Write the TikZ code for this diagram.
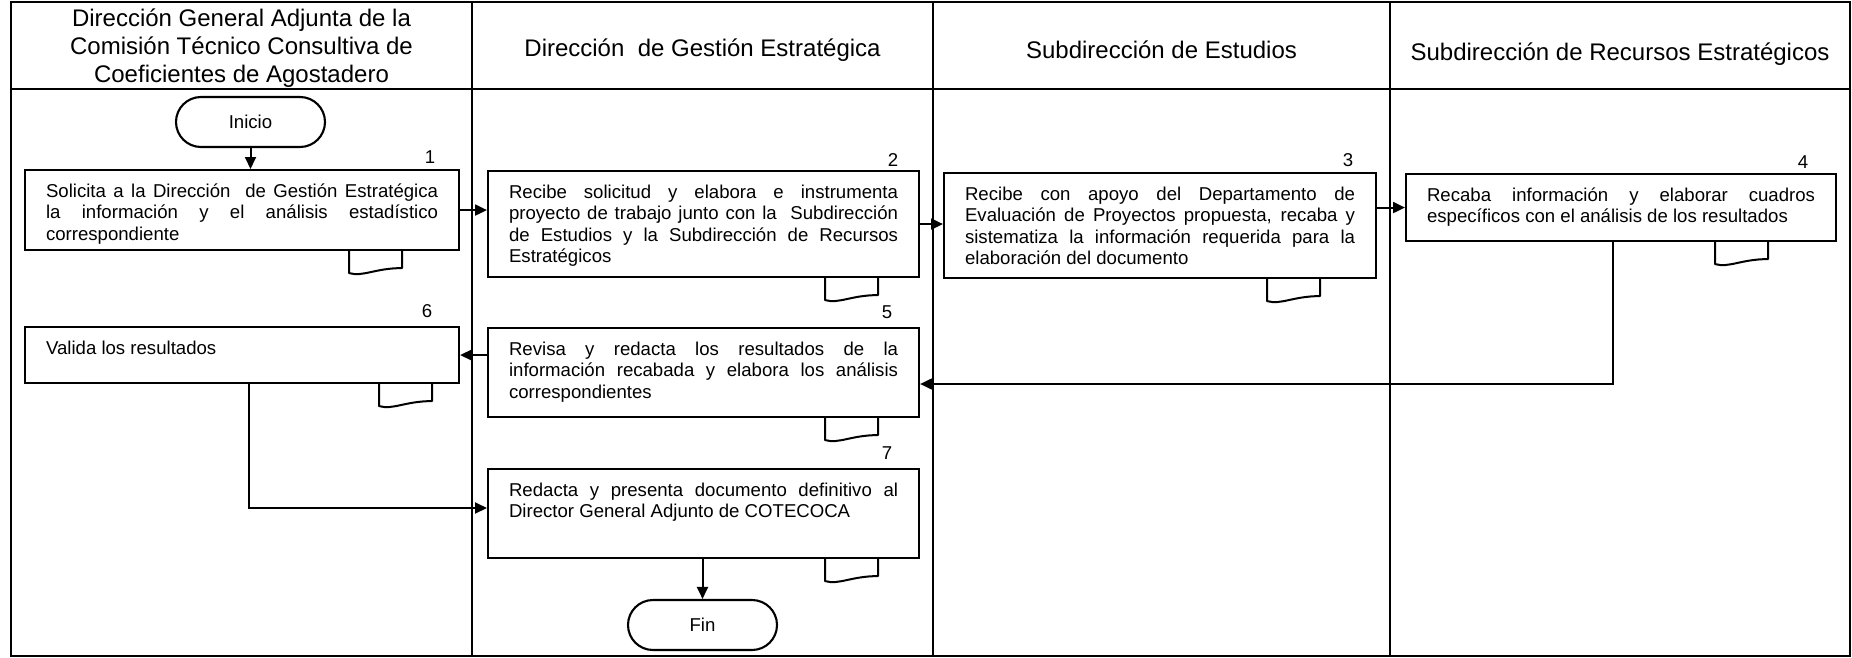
\documentclass[tikz,border=0pt]{standalone}
\usepackage{fontspec}
\setmainfont{Liberation Sans}
\usetikzlibrary{arrows.meta,shapes.misc,calc}
\newcommand\myBody{\fontsize{18.6}{21.6}\selectfont}
\newcommand\myHead{\fontsize{24}{28}\selectfont}
\newcommand\docmark[2]{\draw[docline, shift={(#1.south east)}] (#2,0) -- (#2,22) .. controls (#2+14,26) and (#2+26,17) .. (#2+53,17) -- (#2+53,0);}
\begin{document}
\begin{tikzpicture}[x=1pt,y=-1pt,
  lane/.style={line width=1.7pt},
  proc/.style={draw, line width=2.1pt, anchor=north west, inner xsep=21pt, inner ysep=0pt, align=justify, font=\myBody, text height=27pt},
  term/.style={draw, line width=2.1pt, rounded rectangle, minimum width=149pt, minimum height=50pt, inner sep=0pt, font=\myBody},
  num/.style={font=\myBody, inner sep=0pt},
  head/.style={font=\myHead, align=center, inner sep=0pt, anchor=base},
  arr/.style={line width=2pt, -{Triangle[length=12pt,width=11pt]}},
  docline/.style={line width=2pt, line join=round}
]
\useasboundingbox (0,0) rectangle (1852,658);
% lanes
\draw[lane] (11,2) rectangle (1850,656);
\draw[lane] (472,2) -- (472,656);
\draw[lane] (933,2) -- (933,656);
\draw[lane] (1390,2) -- (1390,656);
\draw[lane] (11,89) -- (1850,89);
% headers
\node[head] (h1) at (241.5,83) {Dirección General Adjunta de la\\Comisión Técnico Consultiva de\\Coeficientes de Agostadero};
\node[head] (h2) at (702.5,57) {Dirección\ \ de Gestión Estratégica};
\node[head] (h3) at (1161.5,59) {Subdirección de Estudios};
\node[head] (h4) at (1620,61) {Subdirección de Recursos Estratégicos};
% terminators
\node[term] (ini) at (250.5,122) {Inicio};
\node[term] (fin) at (702.5,625) {Fin};
% process boxes
\node[proc, text width=392pt, text depth=53pt] (b1) at (24,169) {Solicita a la Dirección\ \ de Gestión Estratégica\linebreak la información y el análisis estadístico\linebreak correspondiente};
\node[proc, text width=389pt, text depth=79pt] (b2) at (487,170) {Recibe solicitud y elabora e instrumenta\linebreak proyecto de trabajo junto con la\ \ Subdirección\linebreak de Estudios y la Subdirección de Recursos\linebreak Estratégicos};
\node[proc, text width=390pt, text depth=78pt] (b3) at (943,172) {Recibe con apoyo del Departamento de\linebreak Evaluación de Proyectos propuesta, recaba y\linebreak sistematiza la información requerida para la\linebreak elaboración del documento};
\node[proc, text width=388pt, text depth=40pt] (b4) at (1405,173) {Recaba información y elaborar cuadros\linebreak específicos con el análisis de los resultados};
\node[proc, text width=389pt, text depth=62pt] (b5) at (487,327) {Revisa y redacta los resultados de la\linebreak información recabada y elabora los análisis\linebreak correspondientes};
\node[proc, text width=392pt, text depth=29pt] (b6) at (24,326) {Valida los resultados};
\node[proc, text width=389pt, text depth=62pt] (b7) at (487,468) {Redacta y presenta documento definitivo al\linebreak Director General Adjunto de COTECOCA};
% numbers
\node[num] (n1) at (430,157) {1};
\node[num] (n2) at (893,160) {2};
\node[num] (n3) at (1348,160) {3};
\node[num] (n4) at (1803,162) {4};
\node[num] (n5) at (887,312) {5};
\node[num] (n6) at (427,311) {6};
\node[num] (n7) at (887,453) {7};
% document marks
\docmark{b1}{-111}
\docmark{b2}{-95}
\docmark{b3}{-110}
\docmark{b4}{-122}
\docmark{b5}{-95}
\docmark{b6}{-81}
\docmark{b7}{-95}
% connectors
\coordinate (c4) at (1613,384);
\coordinate (c6) at (249,508);
\draw[arr] (ini.south) -- (ini.south |- b1.north);
\draw[arr] (b1.east) -- (b1.east -| b2.west);
\draw[arr] (b2.east) -- (b2.east -| b3.west);
\draw[arr] (b3.east |- b4.west) -- (b4.west);
\draw[arr] (b4.south -| c4) -- (c4) -- (c4 -| b5.east);
\draw[arr] (b5.west |- b6.east) -- (b6.east);
\draw[arr] (b6.south -| c6) -- (c6) -- (c6 -| b7.west);
\draw[arr] (b7.south -| fin.north) -- (fin.north);
\end{tikzpicture}
\end{document}
